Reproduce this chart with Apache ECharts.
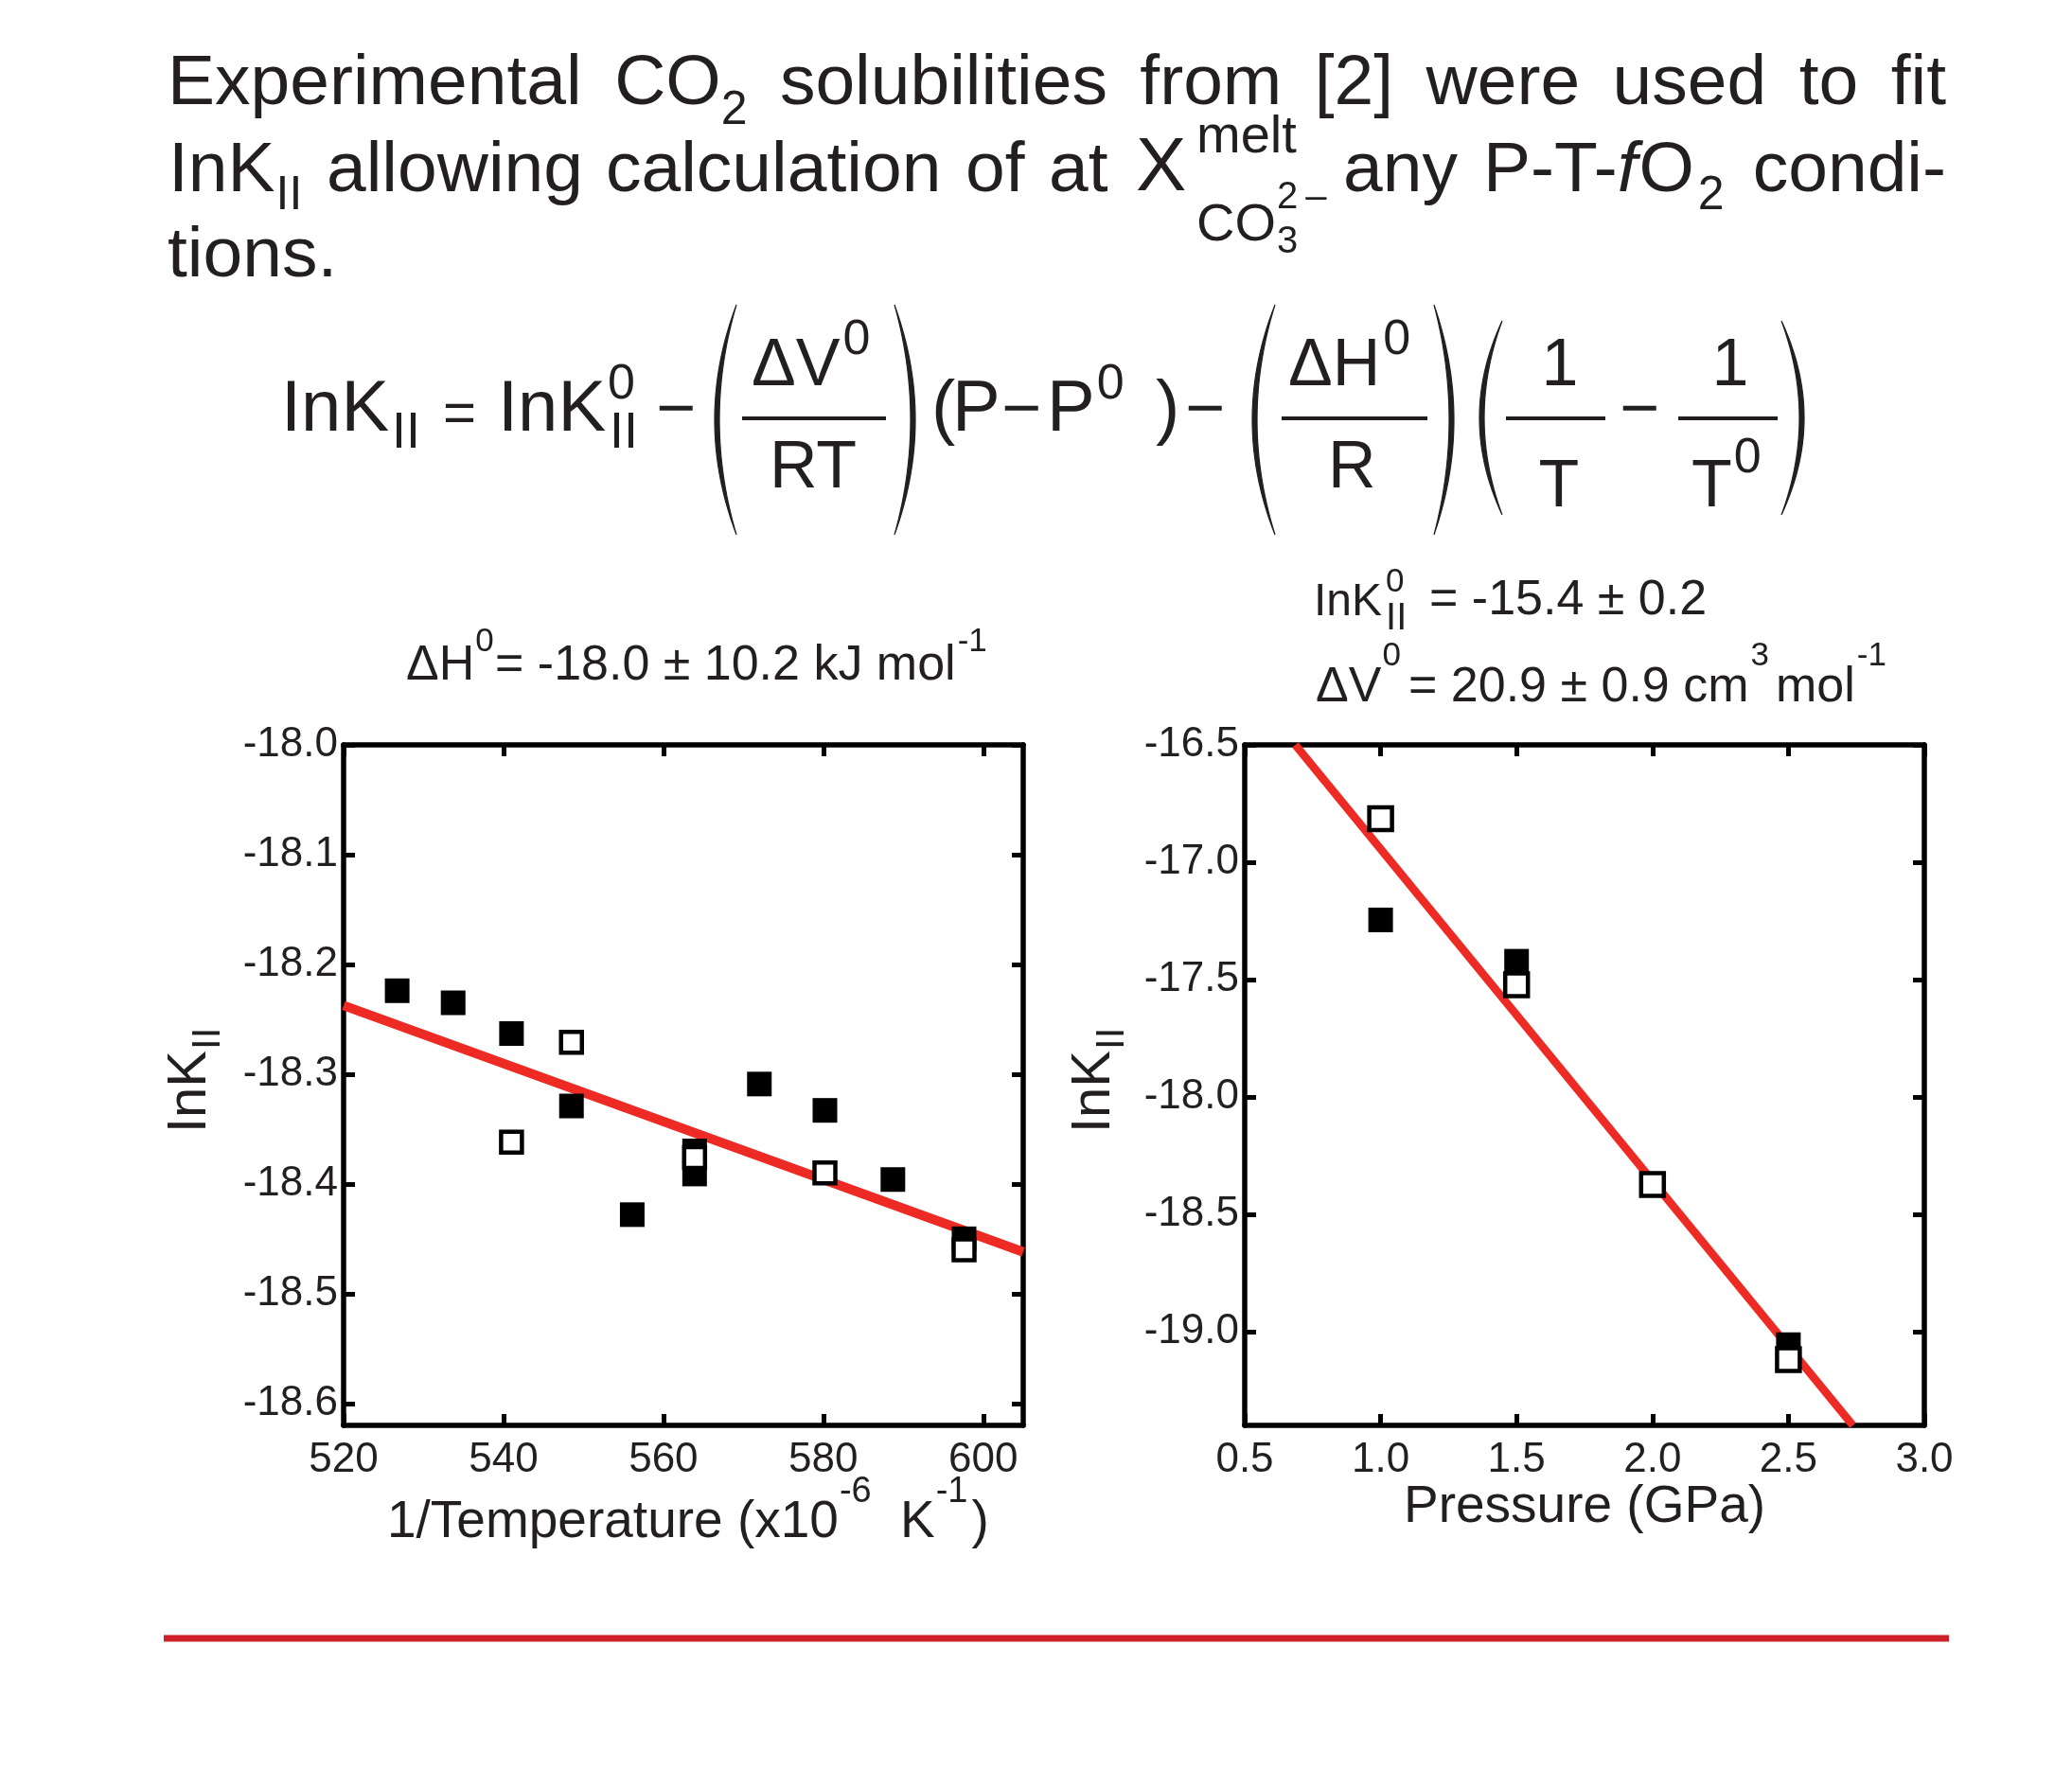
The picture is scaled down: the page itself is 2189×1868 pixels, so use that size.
<!DOCTYPE html>
<html>
<head>
<meta charset="utf-8">
<title>lnK fits</title>
<script src="https://cdn.jsdelivr.net/npm/echarts@6/dist/echarts.min.js"></script>
<style>
  html, body { margin: 0; padding: 0; background: #fff; }
  #chart { width: 2189px; height: 1868px; }
</style>
</head>
<body>
<div id="chart"></div>
<script>
// ---- data ----
// left panel: lnK_II vs 1/T (x10^-6 K^-1)
var invT_filled = [526.7, 533.7, 541.0, 548.5, 556.1, 563.9, 563.9, 572.0, 580.2, 588.7, 597.6];
var lnK_T_filled = [-18.224, -18.235, -18.263, -18.329, -18.428, -18.370, -18.391, -18.309, -18.333, -18.396, -18.450];
var invT_open = [541.0, 548.5, 563.9, 580.2, 597.6];
var lnK_T_open = [-18.362, -18.271, -18.376, -18.390, -18.460];
var fitT_x = [520, 605];
var fitT_y = [-18.2375, -18.462];
var tTicks = [520, 540, 560, 580, 600];
var tLnTicks = [-18.6, -18.5, -18.4, -18.3, -18.2, -18.1, -18.0];

// right panel: lnK_II vs pressure (GPa)
var P_filled = [1.0, 1.5, 2.5];
var lnK_P_filled = [-17.246, -17.422, -19.056];
var P_open = [1.0, 1.5, 2.0, 2.5];
var lnK_P_open = [-16.815, -17.522, -18.374, -19.120];
var fitP_x = [0.686, 2.737];
var fitP_y = [-16.5, -19.4];
var pTicks = [0.5, 1.0, 1.5, 2.0, 2.5, 3.0];
var pLnTicks = [-19.0, -18.5, -18.0, -17.5, -17.0, -16.5];

var FF = '"Liberation Sans", Arial, Helvetica, sans-serif';
var INK = '#231f20';
var RED = '#ed2a24';

function pairs(xs, ys) {
    return xs.map(function (x, i) { return [x, ys[i]]; });
}

// text helpers (baseline positioned)
var meas = document.createElement('canvas').getContext('2d');
function tw(t, s, it) {
    meas.font = (it ? 'italic ' : '') + s + 'px ' + FF;
    return meas.measureText(t).width;
}
var G = [];
function T(t, x, base, s, opt, target) {
    opt = opt || {};
    (target || G).push({
        type: 'text', x: x, y: base - 0.3465 * s, silent: true,
        style: {
            text: t, font: (opt.it ? 'italic ' : '') + s + 'px ' + FF,
            fill: opt.c || INK, align: opt.al || 'left', verticalAlign: 'middle'
        }
    });
    if (opt.al === 'center') return x + tw(t, s, opt.it) / 2;
    return x + tw(t, s, opt.it);
}
function bar(x1, x2, y) {
    G.push({ type: 'rect', silent: true, shape: { x: x1, y: y - 2, width: x2 - x1, height: 4 }, style: { fill: INK } });
}
// tall thin bracket as a crescent polygon
function paren(xa, xb, y1, y2, left) {
    var pts = [], n = 30, w = 5, ym = (y1 + y2) / 2, i, t, e, c;
    e = left ? xb : xa;
    c = left ? 2 * xa - xb : 2 * xb - xa;
    for (i = 0; i <= n; i++) {
        t = i / n;
        pts.push([(1 - t) * (1 - t) * e + 2 * t * (1 - t) * c + t * t * e,
                  (1 - t) * (1 - t) * y1 + 2 * t * (1 - t) * ym + t * t * y2]);
    }
    c = left ? 2 * (xa + w) - xb : 2 * (xb - w) - xa;
    for (i = n; i >= 0; i--) {
        t = i / n;
        pts.push([(1 - t) * (1 - t) * e + 2 * t * (1 - t) * c + t * t * e,
                  (1 - t) * (1 - t) * y1 + 2 * t * (1 - t) * ym + t * t * y2]);
    }
    G.push({ type: 'polygon', silent: true, shape: { points: pts }, style: { fill: INK, stroke: INK, lineWidth: 1.2 } });
}

// ---- header paragraph ----
var HS = 75, SS = 50;
var line1 = [
    [['Experimental', HS]],
    [['CO', HS], ['2', SS, 20]],
    [['solubilities', HS]],
    [['from', HS]],
    [['[2]', HS]],
    [['were', HS]],
    [['used', HS]],
    [['to', HS]],
    [['fit', HS]]
];
(function () {
    var L = 177, R = 2056, base = 115, total = 0;
    var widths = line1.map(function (w) {
        var s = 0;
        w.forEach(function (r) { s += tw(r[0], r[1]); });
        total += s;
        return s;
    });
    var gap = (R - L - total) / (line1.length - 1), x = L;
    line1.forEach(function (w, i) {
        var xx = x;
        w.forEach(function (r) { xx = T(r[0], xx, base + (r[2] || 0), r[1]); });
        x += widths[i] + gap;
    });
})();

var b2 = 207, x2;
x2 = T('InK', 178, b2, HS);
T('II', x2 + 1, b2 + 18, SS);
T('allowing', 345, b2, HS);
T('calculation', 640, b2, HS);
T('of', 1020, b2, HS);
T('at', 1108, b2, HS);
T('X', 1200, b2, 80);
T('melt', 1264, b2 - 42, 56);
x2 = T('CO', 1264, b2 + 51, 56);
T('3', x2 + 1, b2 + 63, 40);
x2 = T('2', x2 + 1, b2 + 16, 40);
T('\u2013', x2 + 8, b2 + 16, 40);
x2 = T('any', 1419, b2, HS);
x2 = T('P-T-', 1567, b2, HS);
x2 = T('f', x2, b2, HS, { it: true });
x2 = T('O', x2 + 2, b2, HS);
T('2', x2 + 4, b2 + 18, SS);
T('condi-', 2056, b2, HS, { al: 'right' });
T('tions.', 177, 297, HS);

// ---- equation ----
var EM = 76, EF = 70, ES = 52, EI = 54, EO = 72, xe;
T('InK', 297, 460, EM);
T('II', 414, 477, EI);
T('=', 468, 460, 60);
T('InK', 526, 460, EM);
T('0', 642, 425, ES);
T('II', 644, 477, EI);
T('\u2212', 693, 460, EO);
paren(755, 778, 322, 565, true);
xe = T('\u0394V', 794, 412, EF);
T('0', xe + 3, 378, ES);
bar(784, 936, 442);
T('RT', 813, 520, EF);
paren(945, 967, 322, 565, false);
T('(', 984, 460, EM);
T('P', 1006, 460, EM);
T('\u2212', 1058, 460, EO);
xe = T('P', 1106, 460, EM);
T('0', xe + 2, 425, ES);
T(')', 1221, 460, EM);
T('\u2212', 1252, 460, EO);
paren(1323, 1347, 322, 565, true);
xe = T('\u0394H', 1361, 412, EF);
T('0', xe + 3, 378, ES);
bar(1354, 1508, 442);
T('R', 1403, 520, EF);
paren(1515, 1536, 322, 565, false);
paren(1563, 1587, 339, 544, true);
T('1', 1648, 412, EF, { al: 'center' });
bar(1591, 1696, 442);
T('T', 1647, 540, EF, { al: 'center' });
T('\u2212', 1711, 460, EO);
T('1', 1828, 412, EF, { al: 'center' });
bar(1773, 1878, 442);
xe = T('T', 1787, 540, EF);
T('0', xe + 2, 503, ES);
paren(1882, 1906, 339, 544, false);

// ---- panel titles ----
var PT = 52, PS = 35, xt;
xt = T('\u0394H', 429, 722, PT);
T('0', xt + 1, 690, PS);
xt = T('= -18.0 \u00b1 10.2 kJ mol', 523, 722, PT);
T('-1', xt + 2, 690, PS);

xt = T('InK', 1388, 653, 48);
T('0', xt + 4, 627, PS);
T('II', xt + 4, 668, 40);
T('= -15.4 \u00b1 0.2', 1510, 653, PT);
xt = T('\u0394V', 1390, 745, PT);
T('0', xt + 1, 705, PS);
xt = T('= 20.9 \u00b1 0.9 cm', 1488, 745, PT);
T('3', xt + 2, 705, PS);
xt = T('mol', 1876, 745, PT);
T('-1', xt + 2, 705, PS);

// ---- axis names ----
var AN = 55, AS = 38;
xt = T('1/Temperature (x10', 409, 1628, AN);
T('-6', xt + 1, 1590, AS);
xt = T('K', 951, 1628, AN);
xt = T('-1', xt + 1, 1590, AS);
T(')', xt + 4, 1628, AN);
T('Pressure (GPa)', 1483, 1612, AN);

function yName(x, y) {
    var kids = [];
    var w = T('InK', 0, 0, 58, null, kids);
    T('II', w + 1, 14, 42, null, kids);
    G.push({ type: 'group', x: x, y: y, rotation: Math.PI / 2, silent: true, children: kids });
}
yName(221, 1197);
yName(1176, 1197);

// bottom red rule
G.push({ type: 'rect', silent: true, shape: { x: 173, y: 1727.5, width: 1886, height: 7 }, style: { fill: '#cd2028' } });

// ---- axes ----
function axisBase(grid, min, max, pos, ticks, labelled, fmt, margin) {
    return {
        gridIndex: grid, type: 'value', min: min, max: max, position: pos,
        axisLine: { show: true, onZero: false, lineStyle: { color: '#000', width: 5.5 } },
        axisTick: { show: true, inside: true, length: 12, customValues: ticks, lineStyle: { color: '#000', width: 5 } },
        axisLabel: {
            show: labelled, customValues: ticks, margin: margin,
            fontSize: 44, fontFamily: FF, color: INK, formatter: fmt
        },
        splitLine: { show: false }
    };
}
function f1(v) { return v.toFixed(1); }
function f0(v) { return String(Math.round(v)); }

var option = {
    animation: false,
    backgroundColor: '#fff',
    grid: [
        { left: 363, top: 787, width: 718, height: 719 },
        { left: 1315, top: 787, width: 718, height: 719 }
    ],
    xAxis: [
        axisBase(0, 520, 605, 'bottom', tTicks, true, f0, 15),
        axisBase(0, 520, 605, 'top', tTicks, false, f0, 8),
        axisBase(1, 0.5, 3.0, 'bottom', pTicks, true, f1, 15),
        axisBase(1, 0.5, 3.0, 'top', pTicks, false, f1, 8)
    ],
    yAxis: [
        axisBase(0, -18.62, -18.0, 'left', tLnTicks, true, f1, 6),
        axisBase(0, -18.62, -18.0, 'right', tLnTicks, false, f1, 8),
        axisBase(1, -19.4, -16.5, 'left', pLnTicks, true, f1, 6),
        axisBase(1, -19.4, -16.5, 'right', pLnTicks, false, f1, 8)
    ],
    series: [
        {
            type: 'line', xAxisIndex: 0, yAxisIndex: 0, data: pairs(fitT_x, fitT_y),
            symbol: 'none', lineStyle: { color: RED, width: 10 }, z: 2, silent: true
        },
        {
            type: 'scatter', xAxisIndex: 0, yAxisIndex: 0, data: pairs(invT_filled, lnK_T_filled),
            symbol: 'rect', symbolSize: 26, itemStyle: { color: '#000', opacity: 1 }, z: 3, silent: true
        },
        {
            type: 'scatter', xAxisIndex: 0, yAxisIndex: 0, data: pairs(invT_open, lnK_T_open),
            symbol: 'rect', symbolSize: 22, itemStyle: { color: '#fff', borderColor: '#000', borderWidth: 4.5, opacity: 1 }, z: 4, silent: true
        },
        {
            type: 'line', xAxisIndex: 2, yAxisIndex: 2, data: pairs(fitP_x, fitP_y),
            symbol: 'none', lineStyle: { color: RED, width: 8.5 }, z: 2, silent: true
        },
        {
            type: 'scatter', xAxisIndex: 2, yAxisIndex: 2, data: pairs(P_filled, lnK_P_filled),
            symbol: 'rect', symbolSize: 26, itemStyle: { color: '#000', opacity: 1 }, z: 3, silent: true
        },
        {
            type: 'scatter', xAxisIndex: 2, yAxisIndex: 2, data: pairs(P_open, lnK_P_open),
            symbol: 'rect', symbolSize: 24, itemStyle: { color: '#fff', borderColor: '#000', borderWidth: 4.5, opacity: 1 }, z: 4, silent: true
        }
    ],
    graphic: { elements: G }
};

var chart = echarts.init(document.getElementById('chart'));
chart.setOption(option);
</script>
</body>
</html>
